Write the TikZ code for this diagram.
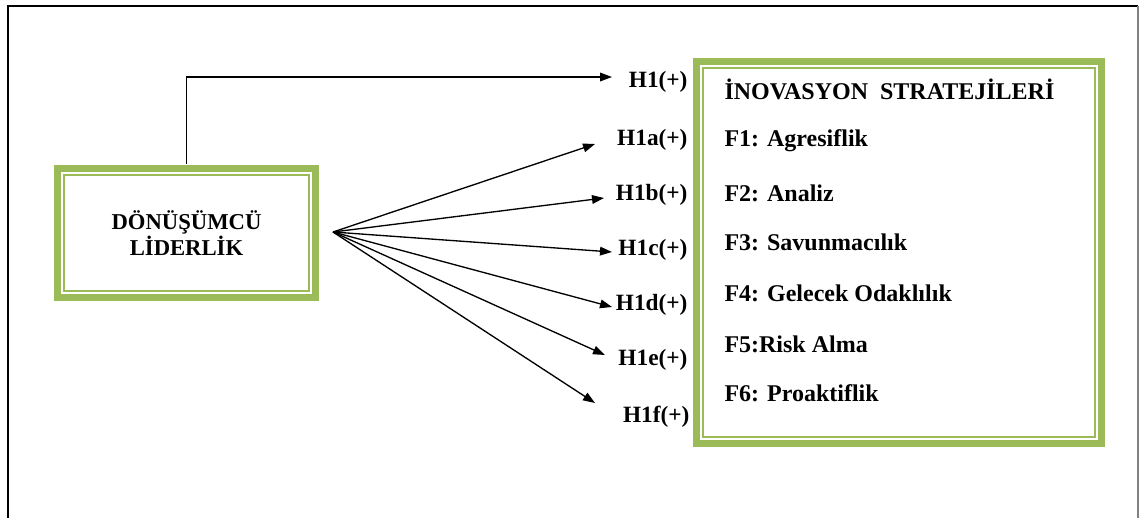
\documentclass[tikz,border=0pt]{standalone}
\usepackage{fontspec}
\setmainfont{Liberation Serif}
\usetikzlibrary{arrows.meta}
\definecolor{boxgreen}{RGB}{155,187,89}
\tikzset{every picture/.style={line width=0.75pt}}

\begin{document}
\begin{tikzpicture}[x=0.75pt,y=0.75pt,yscale=-1,xscale=1,
	greenbox/.style={draw=boxgreen,line width=4.6pt,fill=white,inner sep=0pt,outer sep=0pt},
	innerline/.style={draw=boxgreen,line width=1.2pt},
	hlabel/.style={anchor=east,inner sep=0pt,font=\bfseries\fontsize{17.5}{20}\selectfont},
	flabel/.style={anchor=west,inner sep=0pt,font=\bfseries\fontsize{18}{20}\selectfont},
	link/.style={-{Triangle[length=9pt,width=6.5pt]},line width=1pt}]
	\useasboundingbox (0,0) rectangle (1140,518);

	%Frame
	\draw [line width=1.5pt] (8,518) -- (8,6) -- (1138,6) ;
	\draw [gray,line width=1pt] (1138,6) -- (1138,518) ;

	%Left box
	\node [greenbox,minimum width=193.5pt,minimum height=96.75pt,align=center,font=\bfseries\fontsize{17}{20}\selectfont] (lider) at (186.5,233) {DÖNÜŞÜMCÜ\\LİDERLİK};
	\draw [innerline] ([xshift=4.8pt,yshift=4.8pt]lider.north west) rectangle ([xshift=-4.8pt,yshift=-4.8pt]lider.south east) ;

	%Right box
	\node [greenbox,minimum width=303.75pt,minimum height=286.5pt] (inov) at (899,252.5) {};
	\draw [innerline] ([xshift=4.8pt,yshift=4.8pt]inov.north west) rectangle ([xshift=-4.8pt,yshift=-4.8pt]inov.south east) ;

	\node [flabel] (title) at (724,89) {İNOVASYON\ \ STRATEJİLERİ};
	\node [flabel] (f1) at (724,141) {F1: Agresiflik};
	\node [flabel] (f2) at (724,193) {F2: Analiz};
	\node [flabel] (f3) at (724,242) {F3: Savunmacılık};
	\node [flabel] (f4) at (724,293) {F4: Gelecek Odaklılık};
	\node [flabel] (f5) at (724,344) {F5:Risk Alma};
	\node [flabel] (f6) at (724,393) {F6: Proaktiflik};

	%Hypothesis labels
	\node [hlabel] (h1) at (688,82) {H1(+)};
	\node [hlabel] (h1a) at (688,140) {H1a(+)};
	\node [hlabel] (h1b) at (688,195) {H1b(+)};
	\node [hlabel] (h1c) at (688,250) {H1c(+)};
	\node [hlabel] (h1d) at (688,305) {H1d(+)};
	\node [hlabel] (h1e) at (688,360) {H1e(+)};
	\node [hlabel] (h1f) at (690,417) {H1f(+)};

	%Arrow ends
	\coordinate (fan) at (333,232);
	\coordinate (t1) at (612,77);
	\coordinate (t1a) at (595,144);
	\coordinate (t1b) at (604,198);
	\coordinate (t1c) at (612,252);
	\coordinate (t1d) at (612,307);
	\coordinate (t1e) at (605,355);
	\coordinate (t1f) at (595,403);

	%Connectors
	\draw [link,shorten <=3.5pt] (lider.north) |- (t1) ;
	\foreach \t in {t1a,t1b,t1c,t1d,t1e,t1f}
		\draw [link] (fan) -- (\t) ;
\end{tikzpicture}
\end{document}
